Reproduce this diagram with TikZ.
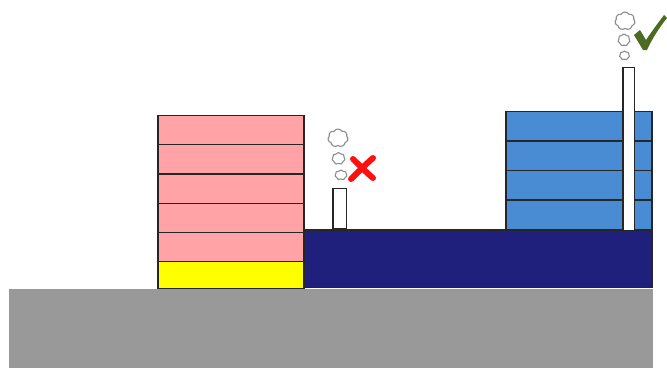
\documentclass[tikz,border=0pt]{standalone}
\usetikzlibrary{shapes.symbols}
\definecolor{groundgray}{HTML}{999999}
\definecolor{pinkfloor}{HTML}{FFA3A6}
\definecolor{yellowfloor}{HTML}{FFFF00}
\definecolor{navyblock}{HTML}{1F1F7C}
\definecolor{bluefloor}{HTML}{4A8CD4}
\definecolor{olivecheck}{HTML}{4B6A22}
\definecolor{crossred}{HTML}{FF1010}
\definecolor{smokegray}{HTML}{8E8E8E}
\tikzset{
  outline/.style={draw=black!85, line width=1.2pt},
  floorpink/.style={outline, fill=pinkfloor},
  flooryellow/.style={outline, fill=yellowfloor},
  floorblue/.style={outline, fill=bluefloor},
  chimney/.style={outline, fill=white},
  smoke/.style={cloud, cloud puffs=7, cloud puff arc=120, aspect=1.1, draw=smokegray, line width=1.1pt, fill=white, inner sep=0pt}
}
\begin{document}
\begin{tikzpicture}[x=1pt, y=-1pt]
\useasboundingbox (0,0) rectangle (667,368);
% ground
\fill[groundgray] (9,289) rectangle (653,368);
% navy block
\draw[outline, fill=navyblock] (304,230) rectangle (652,287.5);
% pink building
\foreach \t/\b in {115.5/144.5, 144.5/174, 174/203.5, 203.5/232.5, 232.5/261.5} {
  \draw[floorpink] (158,\t) rectangle (304,\b);
}
\draw[flooryellow] (158,261.5) rectangle (304,288.5);
% blue building
\foreach \t/\b in {111.5/141, 141/170.5, 170.5/200, 200/230} {
  \draw[floorblue] (506,\t) rectangle (652,\b);
}
% chimneys
\draw[chimney] (333,188.5) rectangle (346.5,228.5);
\draw[chimney] (623,67.5) rectangle (634.5,230.5);
% smoke left
\node[smoke, minimum width=20pt, minimum height=18pt] (sl1) at (338,138) {};
\node[smoke, minimum width=13pt, minimum height=12pt] (sl2) at (338.5,158.5) {};
\node[smoke, minimum width=12pt, minimum height=10pt] (sl3) at (341,175) {};
% smoke right
\node[smoke, minimum width=20pt, minimum height=18pt] (sr1) at (625,21) {};
\node[smoke, minimum width=12pt, minimum height=12pt] (sr2) at (624,40) {};
\node[smoke, minimum width=10pt, minimum height=9pt] (sr3) at (624.5,55.5) {};
% red cross
\draw[crossred, line width=6pt, line cap=round] (353,159) .. controls (360,166) and (367,173) .. (373,178);
\draw[crossred, line width=6pt, line cap=round] (373,158) .. controls (366,164) and (358,172) .. (351,179);
% green check
\fill[olivecheck] (634,35) -- (640,30) -- (646,40) .. controls (652,31) and (658,23) .. (664,15)
  -- (667,18) .. controls (659,28) and (652,39) .. (647,50) -- (643,50) -- cycle;
\end{tikzpicture}
\end{document}
